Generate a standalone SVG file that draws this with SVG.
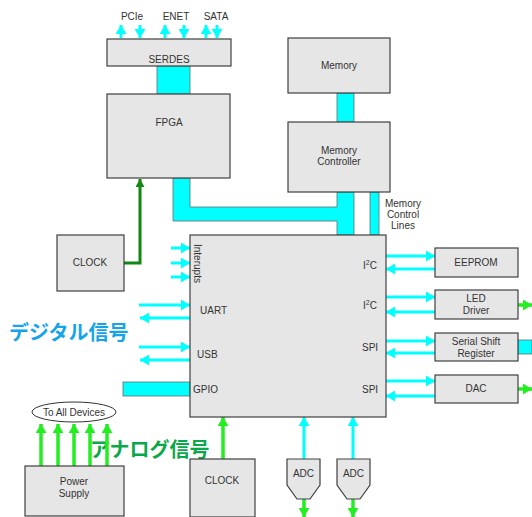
<svg xmlns="http://www.w3.org/2000/svg" width="532" height="517" viewBox="0 0 532 517">
<defs>
<style>
.box{fill:#e6e6e6;stroke:#404040;stroke-width:1.2}
.t{font-family:"Liberation Sans",Arial,sans-serif;font-size:10px;fill:#333;text-anchor:middle}
.tl{font-family:"Liberation Sans",Arial,sans-serif;font-size:10px;fill:#333}
.bus{fill:#00ffff;stroke:#6a6a6a;stroke-width:0.8}
.ca{stroke:#00ffff;stroke-width:3;fill:none;marker-end:url(#hc)}
.ga{stroke:#22ee22;stroke-width:3.5;fill:none;marker-end:url(#hg)}
.cjk{font-family:"Noto Sans CJK JP","Noto Sans CJK SC",sans-serif;font-size:20px;font-weight:bold}
</style>
<marker id="hc" markerUnits="userSpaceOnUse" markerWidth="9" markerHeight="11" viewBox="0 0 9 11" refX="9" refY="5.5" orient="auto"><path d="M0,0 L9,5.5 L0,11 z" fill="#00ffff"/></marker>
<marker id="hg" markerUnits="userSpaceOnUse" markerWidth="9" markerHeight="11" viewBox="0 0 9 11" refX="9" refY="5.5" orient="auto"><path d="M0,0 L9,5.5 L0,11 z" fill="#22ee22"/></marker>
<marker id="hd" markerUnits="userSpaceOnUse" markerWidth="8" markerHeight="9" viewBox="0 0 8 9" refX="8" refY="4.5" orient="auto"><path d="M0,0 L8,4.5 L0,9 z" fill="#118811"/></marker>
</defs>

<text class="cjk" x="9" y="340" fill="#14a4ea">デジタル信号</text>
<text class="cjk" x="90" y="457" fill="#0aa84a">アナログ信号</text>

<g id="connectors">
<rect class="bus" x="157" y="66" width="33" height="28"/>
<rect class="bus" x="337" y="93" width="17" height="29"/>
<polygon class="bus" points="173,178 190,178 190,207 337,207 337,192 354,192 354,235 337,235 337,221 173,221"/>
<rect class="bus" x="370" y="192" width="9" height="43"/>
<rect class="bus" x="123" y="382" width="67" height="14" stroke="none"/>
<rect class="bus" x="518" y="340" width="14" height="14"/>
<line class="ca" x1="121" y1="38" x2="121" y2="25"/>
<line class="ca" x1="140" y1="25" x2="140" y2="38"/>
<line class="ca" x1="165" y1="38" x2="165" y2="25"/>
<line class="ca" x1="184" y1="25" x2="184" y2="38"/>
<line class="ca" x1="206" y1="38" x2="206" y2="25"/>
<line class="ca" x1="217" y1="25" x2="217" y2="38"/>
<polyline points="124,263 140,263 140,179" fill="none" stroke="#118811" stroke-width="3" marker-end="url(#hd)"/>
<line class="ca" x1="171" y1="248" x2="190" y2="248"/>
<line class="ca" x1="171" y1="263" x2="190" y2="263"/>
<line class="ca" x1="171" y1="277" x2="190" y2="277"/>
<line class="ca" x1="139" y1="305" x2="190" y2="305"/>
<line class="ca" x1="190" y1="318" x2="140" y2="318"/>
<line class="ca" x1="139" y1="347" x2="190" y2="347"/>
<line class="ca" x1="190" y1="360" x2="140" y2="360"/>
<line class="ca" x1="386" y1="256" x2="435" y2="256"/>
<line class="ca" x1="435" y1="269" x2="386" y2="269"/>
<line class="ca" x1="386" y1="297" x2="435" y2="297"/>
<line class="ca" x1="435" y1="312" x2="386" y2="312"/>
<line class="ca" x1="386" y1="341" x2="435" y2="341"/>
<line class="ca" x1="435" y1="353" x2="386" y2="353"/>
<line class="ca" x1="386" y1="381" x2="435" y2="381"/>
<line class="ca" x1="435" y1="396" x2="386" y2="396"/>
<line class="ga" x1="518" y1="305" x2="532" y2="305"/>
<line class="ga" x1="518" y1="389" x2="532" y2="389"/>
<line class="ga" x1="223" y1="459" x2="223" y2="417"/>
<line class="ca" x1="304" y1="459" x2="304" y2="417"/>
<line class="ca" x1="353" y1="459" x2="353" y2="417"/>
<line class="ga" x1="304" y1="499" x2="304" y2="517"/>
<line class="ga" x1="353" y1="499" x2="353" y2="517"/>
<line class="ga" x1="41" y1="466" x2="41" y2="424"/>
<line class="ga" x1="58" y1="466" x2="58" y2="424"/>
<line class="ga" x1="74" y1="466" x2="74" y2="424"/>
<line class="ga" x1="90" y1="466" x2="90" y2="424"/>
<line class="ga" x1="107" y1="466" x2="107" y2="424"/>
</g>

<g id="serdes"><rect class="box" x="107" y="39" width="124" height="27"/><text class="t" x="169" y="63">SERDES</text></g>
<g id="labels-top">
<text class="t" x="132" y="20" font-size="10.5">PCIe</text>
<text class="t" x="176" y="20" font-size="10.5">ENET</text>
<text class="t" x="216" y="20" font-size="10.5">SATA</text>
</g>
<g id="fpga"><rect class="box" x="107" y="94" width="123" height="84"/><text class="t" x="169" y="126">FPGA</text></g>
<g id="memory"><rect class="box" x="288" y="38" width="102" height="55"/><text class="t" x="339" y="69">Memory</text></g>
<g id="memctrl"><rect class="box" x="288" y="122" width="102" height="70"/><text class="t" x="339" y="154">Memory</text><text class="t" x="339" y="165">Controller</text></g>
<g id="mcl-label"><text class="t" x="403" y="207">Memory</text><text class="t" x="403" y="218">Control</text><text class="t" x="403" y="229">Lines</text></g>
<g id="clock1"><rect class="box" x="57" y="235" width="67" height="56"/><text class="t" x="90" y="266">CLOCK</text></g>

<g id="main">
<rect class="box" x="190" y="235" width="196" height="182"/>
<text class="tl" x="0" y="0" transform="translate(194,244) rotate(90)">Interupts</text>
<text class="tl" x="200" y="314">UART</text>
<text class="tl" x="197" y="358">USB</text>
<text class="tl" x="193" y="393">GPIO</text>
<text class="tl" x="363" y="269">I<tspan font-size="7" dy="-4">2</tspan><tspan dy="4">C</tspan></text>
<text class="tl" x="363" y="309">I<tspan font-size="7" dy="-4">2</tspan><tspan dy="4">C</tspan></text>
<text class="tl" x="362" y="351">SPI</text>
<text class="tl" x="362" y="393">SPI</text>
</g>

<g id="eeprom"><rect class="box" x="435" y="248" width="83" height="29"/><text class="t" x="476" y="266">EEPROM</text></g>
<g id="led"><rect class="box" x="435" y="290" width="83" height="29"/><text class="t" x="476" y="302">LED</text><text class="t" x="476" y="314">Driver</text></g>
<g id="ssr"><rect class="box" x="435" y="333" width="83" height="28"/><text class="t" x="476" y="345">Serial Shift</text><text class="t" x="476" y="357">Register</text></g>
<g id="dac"><rect class="box" x="435" y="375" width="83" height="28"/><text class="t" x="476" y="392">DAC</text></g>

<g id="to-all"><ellipse cx="74" cy="412" rx="42" ry="10" fill="#fff" stroke="#333" stroke-width="1"/><text class="t" x="74" y="416" font-size="11">To All Devices</text></g>
<g id="power">
<rect class="box" x="25" y="466" width="99" height="50"/>
<text class="t" x="74" y="485">Power</text><text class="t" x="74" y="497">Supply</text>
</g>
<g id="clock2"><rect class="box" x="190" y="459" width="65" height="58"/><text class="t" x="222" y="484">CLOCK</text></g>
<g id="adc1"><polygon class="box" points="287,459 320,459 320,485 310,499 297,499 287,485"/><text class="t" x="303.5" y="477">ADC</text></g>
<g id="adc2"><polygon class="box" points="337,459 370,459 370,485 360,499 347,499 337,485"/><text class="t" x="353.5" y="477">ADC</text></g>
</svg>
